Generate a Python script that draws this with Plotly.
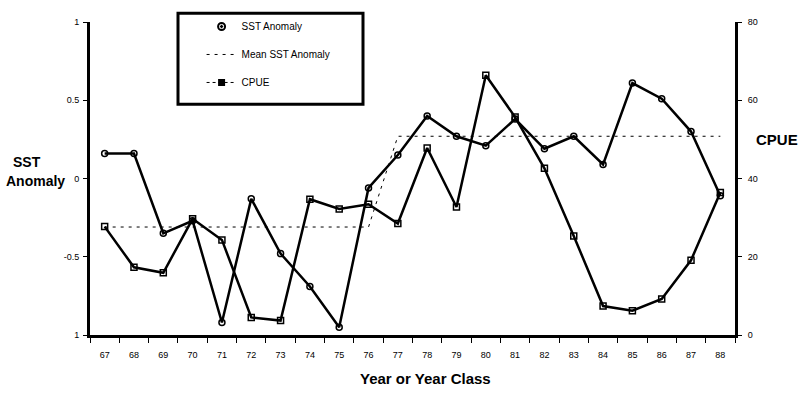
import plotly.graph_objects as go

years = ["67", "68", "69", "70", "71", "72", "73", "74", "75", "76", "77",
         "78", "79", "80", "81", "82", "83", "84", "85", "86", "87", "88"]
sst_anomaly = [0.16, 0.16, -0.35, -0.27, -0.92, -0.13, -0.48, -0.69, -0.95, -0.06, 0.15,
               0.40, 0.27, 0.21, 0.38, 0.19, 0.27, 0.09, 0.61, 0.51, 0.30, -0.11]
cpue = [27.7, 17.3, 15.9, 29.7, 24.3, 4.5, 3.7, 34.7, 32.2, 33.4, 28.5,
        47.8, 32.7, 66.4, 55.7, 42.6, 25.3, 7.4, 6.2, 9.2, 19.1, 36.4]
mean_early = -0.31   # 1967-1976
mean_late = 0.27     # 1977-1988
mean_sst = [mean_early if int(y) <= 76 else mean_late for y in years]

left_ticks = [1, 0.5, 0, -0.5, -1]
left_ticktext = ["1", "0.5", "0", "-0.5", "1"]
right_ticks = [80, 60, 40, 20, 0]

FONT = "Liberation Sans, Arial, sans-serif"

fig = go.Figure()

fig.add_trace(go.Scatter(
    x=years, y=mean_sst, mode="lines",
    line=dict(color="black", width=1, dash="3px,5px"),
    showlegend=False, hoverinfo="skip"))

fig.add_trace(go.Scatter(
    x=years, y=sst_anomaly, mode="lines+markers",
    line=dict(color="black", width=2.5),
    marker=dict(symbol="circle-open", size=6, color="black", line=dict(width=1.5)),
    showlegend=False))

fig.add_trace(go.Scatter(
    x=years, y=cpue, mode="lines+markers", yaxis="y2",
    line=dict(color="black", width=2.5),
    marker=dict(symbol="square-open", size=6, color="black", line=dict(width=1.5)),
    showlegend=False))

# legend-only entries
fig.add_trace(go.Scatter(
    x=[None], y=[None], mode="markers", name="SST Anomaly",
    marker=dict(symbol="circle-open-dot", size=7, color="black", line=dict(width=2)),
    legendgroup="a"))
fig.add_trace(go.Scatter(
    x=[None], y=[None], mode="lines", name="Mean SST Anomaly",
    line=dict(color="black", width=1, dash="3px,5px"), legendgroup="b"))
fig.add_trace(go.Scatter(
    x=[None], y=[None], mode="lines+markers", name="CPUE",
    line=dict(color="black", width=1, dash="3px,3px"),
    marker=dict(symbol="square", size=7, color="black"), legendgroup="c"))

fig.update_layout(
    width=800, height=393,
    margin=dict(l=90, r=65, t=12, b=58),
    paper_bgcolor="white", plot_bgcolor="white",
    font=dict(family=FONT, size=9, color="black"),
    showlegend=True,
    legend=dict(x=0.173, y=1.032, xanchor="left", yanchor="top",
                bgcolor="rgba(0,0,0,0)", borderwidth=0,
                font=dict(family=FONT, size=10, color="black"),
                tracegroupgap=9, itemwidth=30),
    xaxis=dict(type="category", range=[-0.5, len(years) - 0.5],
               showgrid=False, zeroline=False,
               showline=True, linecolor="black", linewidth=3,
               ticks="outside", ticklen=5, tickcolor="black", tickwidth=1,
               tickson="boundaries", ticklabelstandoff=9,
               tickfont=dict(family=FONT, size=9)),
    yaxis=dict(range=[-1, 1], tickvals=left_ticks, ticktext=left_ticktext,
               showgrid=False, zeroline=False,
               showline=True, linecolor="black", linewidth=3,
               ticks="outside", ticklen=4, tickcolor="black",
               ticklabelstandoff=2, tickfont=dict(family=FONT, size=9)),
    yaxis2=dict(range=[0, 80], tickvals=right_ticks, overlaying="y", side="right",
                showgrid=False, zeroline=False,
                showline=True, linecolor="black", linewidth=3,
                ticks="outside", ticklen=4, tickcolor="black",
                ticklabelstandoff=4, tickfont=dict(family=FONT, size=9)),
    shapes=[dict(type="rect", xref="paper", yref="paper",
                 x0=(178 - 90) / 645, x1=(363 - 90) / 645,
                 y0=(335 - 97) / 323, y1=(335 - 3) / 323,
                 line=dict(color="black", width=3))],
    annotations=[
        dict(text="<b>SST</b>", xref="paper", yref="paper",
             x=(27 - 90) / 645, y=(335 - 156) / 323, showarrow=False,
             font=dict(family=FONT, size=14), xanchor="center", yanchor="middle"),
        dict(text="<b>Anomaly</b>", xref="paper", yref="paper",
             x=(35 - 90) / 645, y=(335 - 176) / 323, showarrow=False,
             font=dict(family=FONT, size=14), xanchor="center", yanchor="middle"),
        dict(text="<b>CPUE</b>", xref="paper", yref="paper",
             x=(777 - 90) / 645, y=(335 - 133) / 323, showarrow=False,
             font=dict(family=FONT, size=15), xanchor="center", yanchor="middle"),
        dict(text="<b>Year or Year Class</b>", xref="paper", yref="paper",
             x=(425 - 90) / 645, y=(335 - 380) / 323, showarrow=False,
             font=dict(family=FONT, size=15), xanchor="center", yanchor="middle"),
    ],
)

fig.write_html("out.html",
               config={"displayModeBar": False},
               post_script="document.body.style.margin='0';document.body.style.overflow='hidden';")
